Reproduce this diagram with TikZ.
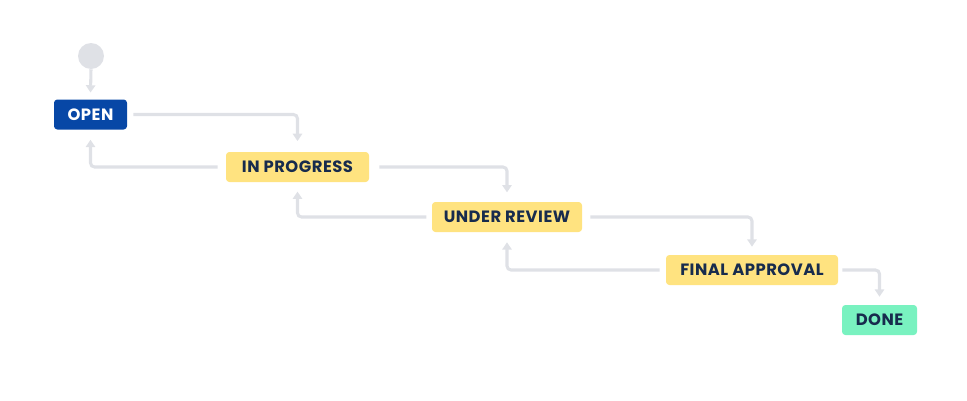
\documentclass[tikz,border=0pt]{standalone}
\usepackage{fontspec}
\setsansfont{Poppins}[LetterSpace=3]
\usetikzlibrary{arrows.meta}

\definecolor{jblue}{HTML}{0747A6}
\definecolor{jyellow}{HTML}{FFE380}
\definecolor{jgreen}{HTML}{79F2C0}
\definecolor{jgrey}{HTML}{DFE1E6}
\definecolor{jnavy}{HTML}{172B4D}

\tikzset{
  status/.style = {rounded corners=2.5pt, minimum height=22.5pt, inner sep=0pt,
    text depth=0pt, font=\sffamily\bfseries\fontsize{12.3}{13}\selectfont, text=jnavy},
  flow/.style = {draw=jgrey, line width=2.3pt, rounded corners=3pt,
    -{Triangle[width=7pt, length=5.5pt]}}
}

\begin{document}
\begin{tikzpicture}[x=0.75pt, y=-0.75pt]

\useasboundingbox (0,0) rectangle (967,400);

\node[circle, fill=jgrey, minimum size=19.5pt, inner sep=0pt] (start) at (91,56) {};

\node[status, fill=jblue, text=white, minimum width=54.75pt] (open) at (90.5,114.5) {OPEN};
\node[status, fill=jyellow, minimum width=107.25pt] (prog) at (297.5,167) {IN PROGRESS};
\node[status, fill=jyellow, minimum width=112.5pt] (review) at (507,217) {UNDER REVIEW};
\node[status, fill=jyellow, minimum width=129pt] (final) at (752,270) {FINAL APPROVAL};
\node[status, fill=jgreen, minimum width=56.25pt] (done) at (879.5,320) {DONE};

\draw[flow] (start.south) -- ([yshift=5pt]open.north);

\draw[flow] ([xshift=4.5pt]open.east) -| ([yshift=8pt]prog.north);
\draw[flow] ([xshift=-6pt]prog.west) -| ([yshift=-7.5pt]open.south);

\draw[flow] ([xshift=7.5pt]prog.east) -| ([yshift=7pt]review.north);
\draw[flow] ([xshift=-4pt]review.west) -| ([yshift=-7pt]prog.south);

\draw[flow] ([xshift=6pt]review.east) -| ([yshift=6pt]final.north);
\draw[flow] ([xshift=-4.5pt]final.west) -| ([yshift=-7.5pt]review.south);

\draw[flow] ([xshift=3pt]final.east) -| ([yshift=6pt]done.north);

\end{tikzpicture}
\end{document}
